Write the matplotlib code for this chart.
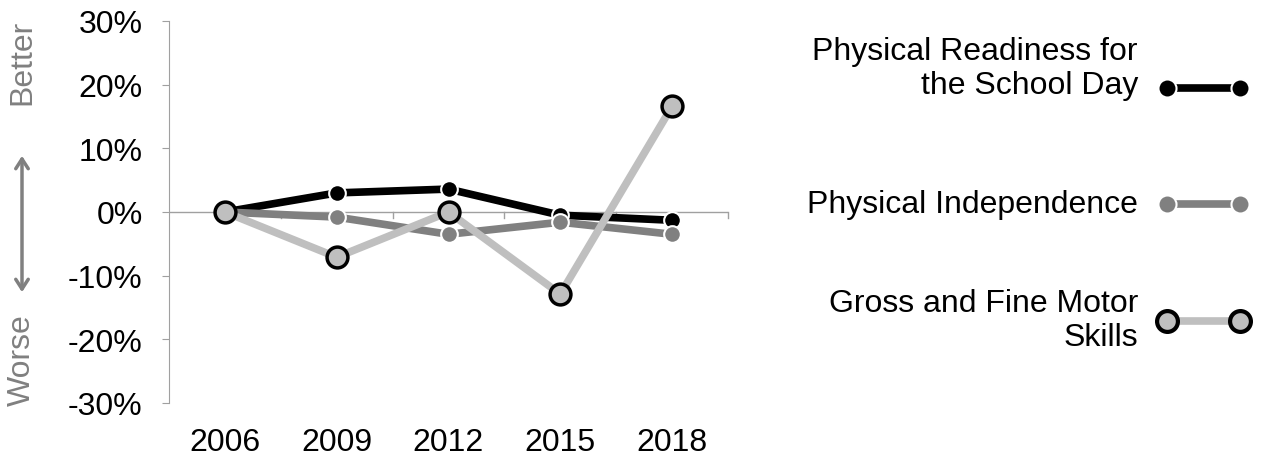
import matplotlib.pyplot as plt
from matplotlib.lines import Line2D
from matplotlib.patches import FancyArrowPatch

plt.rcParams['font.family'] = ['Liberation Sans', 'DejaVu Sans']

years = ['2006', '2009', '2012', '2015', '2018']
readiness = [0.0, 3.0, 3.6, -0.5, -1.3]
independence = [0.0, -0.8, -3.5, -1.6, -3.5]
motor = [0.0, -7.1, 0.0, -12.9, 16.6]
y_ticks = [-30, -20, -10, 0, 10, 20, 30]

W, H = 1267, 456
FS = 23
fig = plt.figure(figsize=(W / 100, H / 100), dpi=100)
ax = fig.add_axes([169 / W, 1 - 404 / H, (728 - 169) / W, (404 - 22) / H])

x = range(len(years))
ax.plot(x, readiness, color='black', lw=5.5, marker='o', ms=12,
        markerfacecolor='black', markeredgecolor='white', markeredgewidth=1.5, zorder=3)
ax.plot(x, independence, color='#808080', lw=5.5, marker='o', ms=12,
        markerfacecolor='#808080', markeredgecolor='white', markeredgewidth=1.5, zorder=4)
ax.plot(x, motor, color='#bfbfbf', lw=5.5, marker='o', ms=15,
        markerfacecolor='#bfbfbf', markeredgecolor='black', markeredgewidth=2.5, zorder=5)

ax.set_xlim(-0.5, len(years) - 0.5)
ax.set_ylim(-30, 30)
ax.set_yticks(y_ticks)
ax.set_yticklabels([f'{v}%' for v in y_ticks], fontsize=FS)
ax.set_xticks(list(x))
ax.set_xticklabels(years, fontsize=FS)
ax.tick_params(axis='x', length=0, pad=17)
ax.tick_params(axis='y', length=5, color='#a0a0a0', pad=14)
for s in ['top', 'right', 'bottom']:
    ax.spines[s].set_visible(False)
ax.spines['left'].set_color('#a0a0a0')
ax.axhline(0, color='#a0a0a0', lw=1, zorder=1)
for b in [i + 0.5 for i in x]:
    ax.plot([b, b], [0, -0.9], color='#a0a0a0', lw=1, zorder=1, clip_on=False)

# Better / Worse annotation
fig.text(22 / W, 1 - 62 / H, 'Better', rotation=90, color='#808080', fontsize=FS,
         ha='center', va='center')
fig.text(22 / W, 1 - 360 / H, 'Worse', rotation=90, color='#808080', fontsize=FS,
         ha='center', va='center')
fig.patches.append(FancyArrowPatch(
    (22 / W, 1 - 154 / H), (22 / W, 1 - 296 / H), transform=fig.transFigure,
    arrowstyle='<->,head_length=7,head_width=4.5', color='#808080', lw=2.5))

# legend
labels = ['Physical Readiness for\nthe School Day', 'Physical Independence',
          'Gross and Fine Motor\nSkills']
text_y = [69, 205, 321]
line_y = [89, 205, 322]
styles = [('black', 'black', 'white', 13, 1.5),
          ('#808080', '#808080', 'white', 13, 1.5),
          ('#bfbfbf', '#bfbfbf', 'black', 15, 3)]
for label, ty, ly, (lc, fc, ec, ms, mew) in zip(labels, text_y, line_y, styles):
    fig.text(1138 / W, 1 - ty / H, label, ha='right', va='center', fontsize=FS,
             linespacing=1.2)
    fig.add_artist(Line2D([1167 / W, 1240 / W], [1 - ly / H, 1 - ly / H], color=lc, lw=5.5,
                          marker='o', ms=ms, markerfacecolor=fc, markeredgecolor=ec,
                          markeredgewidth=mew, transform=fig.transFigure))

fig.savefig('out.png', dpi=100)
